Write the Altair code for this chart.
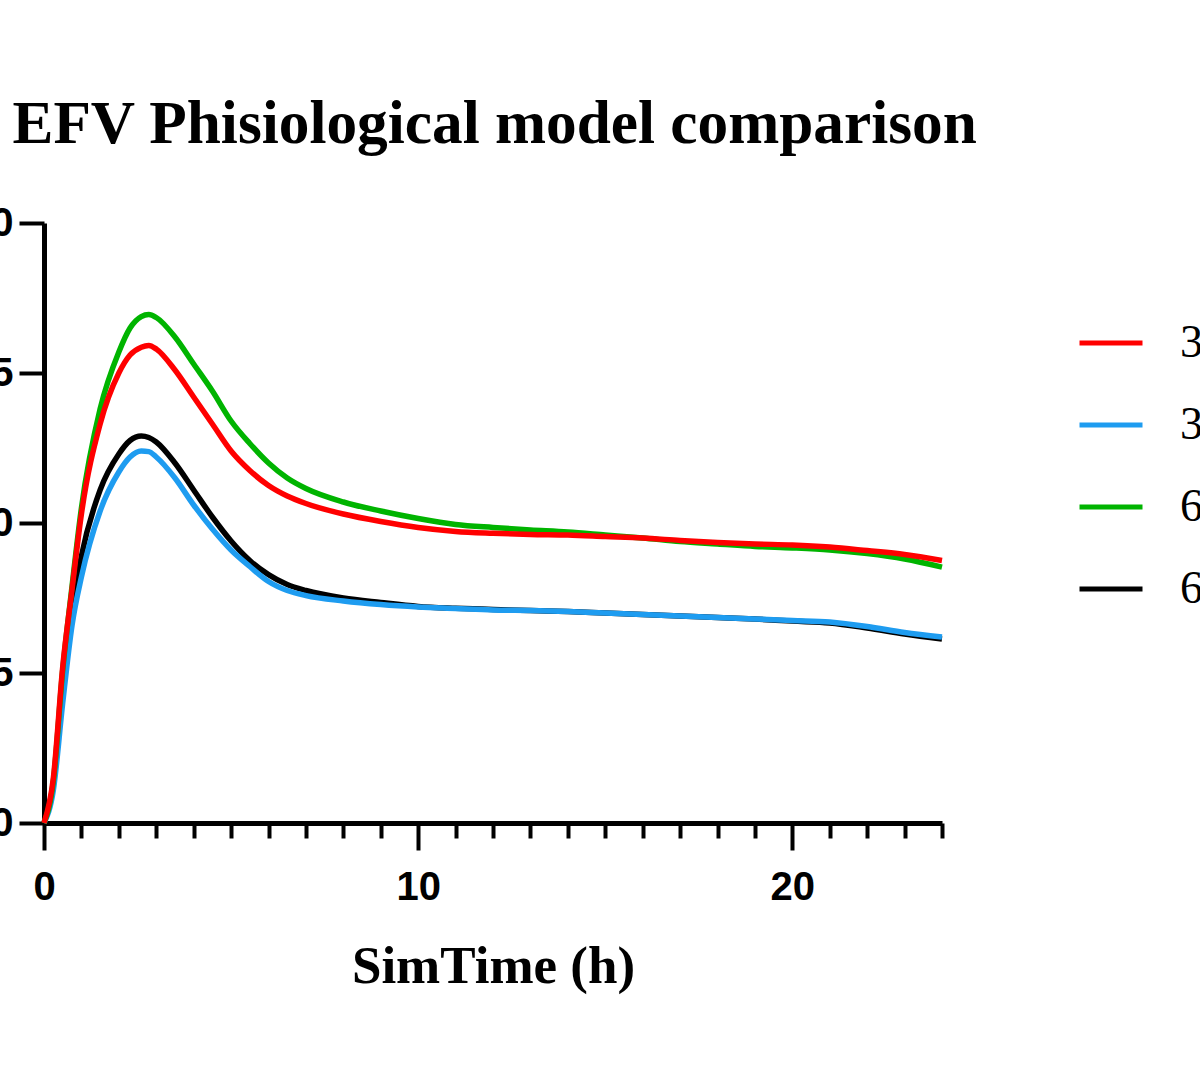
import altair as alt
import pandas as pd

# ---- data ----
time_h = [0, 0.25, 0.5, 0.75, 1, 1.5, 2, 2.3, 2.6, 2.8, 3, 3.5, 4, 4.5, 5, 5.5, 6, 6.5,
          7, 8, 9, 10, 11, 12, 13, 14, 15, 16, 17, 18, 19, 20, 21, 22, 23, 24]

red_vals = [0, 1.5, 5.2, 7.8, 10.3, 13.3, 15.0, 15.6, 15.86, 15.92, 15.8, 15.1, 14.2, 13.3, 12.4, 11.75, 11.25, 10.9,
            10.65, 10.3, 10.05, 9.85, 9.72, 9.66, 9.62, 9.6, 9.55, 9.5, 9.42, 9.35, 9.3, 9.27, 9.2, 9.08, 8.95, 8.75]
blue_vals = [0, 1.1, 4.0, 6.6, 8.2, 10.4, 11.7, 12.2, 12.4, 12.38, 12.2, 11.5, 10.6, 9.8, 9.1, 8.55, 8.05, 7.75,
             7.58, 7.4, 7.28, 7.2, 7.15, 7.1, 7.08, 7.05, 7.0, 6.95, 6.9, 6.85, 6.8, 6.75, 6.7, 6.55, 6.35, 6.2]
green_vals = [0, 1.4, 5.1, 7.9, 10.5, 13.8, 15.7, 16.5, 16.88, 16.95, 16.85, 16.2, 15.3, 14.4, 13.4, 12.65, 12.0, 11.5,
              11.15, 10.7, 10.4, 10.15, 9.95, 9.85, 9.77, 9.7, 9.6, 9.5, 9.38, 9.3, 9.22, 9.17, 9.1, 8.98, 8.8, 8.53]
black_vals = [0, 1.3, 4.4, 7.1, 8.9, 11.1, 12.3, 12.75, 12.9, 12.85, 12.7, 12.0, 11.1, 10.2, 9.4, 8.75, 8.28, 7.95,
              7.75, 7.5, 7.35, 7.22, 7.16, 7.12, 7.08, 7.05, 7.0, 6.95, 6.9, 6.85, 6.8, 6.73, 6.67, 6.5, 6.3, 6.13]

series_names = ["3A", "3B", "6A", "6B"]          # legend order (red, blue, green, black)
series_colors = ["#FF0000", "#1E9CF0", "#00B400", "#000000"]
series_values = [red_vals, blue_vals, green_vals, black_vals]

x_tick_values = list(range(0, 25))
y_tick_values = [0, 5, 10, 15, 20]

rows = []
for name, vals in zip(series_names, series_values):
    for t, v in zip(time_h, vals):
        rows.append({"series": name, "time": t, "conc": v})
df = pd.DataFrame(rows)

x_axis = alt.Axis(
    values=x_tick_values,
    tickSize={"condition": {"test": "datum.value % 10 === 0", "value": 27}, "value": 15},
    labelExpr="datum.value % 10 === 0 ? datum.label : ''",
    labelFont="Liberation Sans", labelFontWeight="bold", labelFontSize=40, labelColor="black",
    labelPadding=17, labelOverlap=False, labelFlush=False,
    domainColor="black", domainWidth=5, tickColor="black", tickWidth=4,
    grid=False,
    title="SimTime (h)", titleFont="Liberation Serif", titleFontSize=53, titleFontWeight="bold",
    titleColor="black", titleBaseline="alphabetic", titleY=159,
)
y_axis = alt.Axis(
    values=y_tick_values, tickSize=25, tickColor="black", tickWidth=4,
    labelFont="Liberation Sans", labelFontWeight="bold", labelFontSize=40, labelColor="black",
    labelPadding=6, labelOverlap=False, labelFlush=False,
    domainColor="black", domainWidth=5, grid=False, title=None,
)
legend = alt.Legend(
    title=None, orient="none", legendX=1033, legendY=86,
    symbolType="stroke", symbolSize=3969, symbolStrokeWidth=5,
    labelFont="Liberation Serif", labelFontSize=46, labelColor="black",
    labelOffset=35, rowPadding=25, padding=0,
)

base = alt.Chart(df)
layers = []
for name in ["6B", "3B", "6A", "3A"]:  # drawing order: red on top
    layers.append(
        base.transform_filter(alt.datum.series == name)
        .mark_line(interpolate="monotone", strokeWidth=5.5)
        .encode(
            x=alt.X("time:Q", scale=alt.Scale(domain=[0, 24], nice=False, zero=False), axis=x_axis),
            y=alt.Y("conc:Q", scale=alt.Scale(domain=[0, 20], nice=False), axis=y_axis),
            color=alt.Color("series:N", scale=alt.Scale(domain=series_names, range=series_colors), legend=legend),
        )
    )

chart = alt.layer(*layers).properties(
    width=898, height=600,
    autosize=alt.AutoSizeParams(type="none"),
    padding={"left": 44, "top": 223, "right": 258, "bottom": 257},
    background="white",
    title=alt.TitleParams(
        "EFV Phisiological model comparison", anchor="start", font="Liberation Serif",
        fontSize=61.3, fontWeight="bold", color="black", dx=44, dy=3, offset=2, baseline="alphabetic",
    ),
).configure_view(stroke=None)

chart.save("out.html", embed_options={"renderer": "svg", "actions": False})
